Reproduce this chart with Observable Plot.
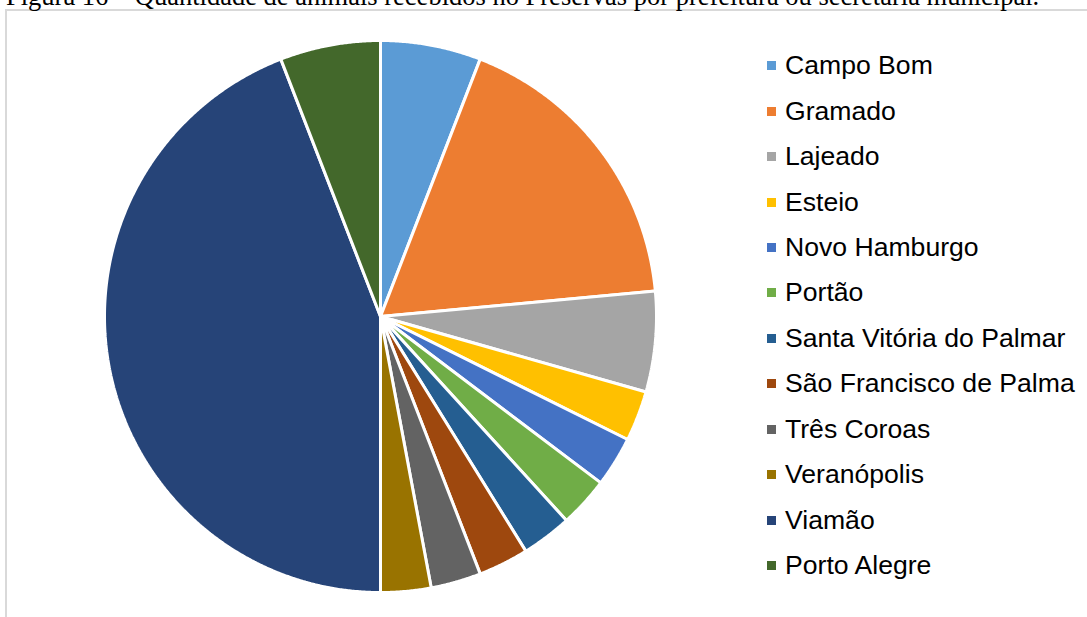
<!DOCTYPE html>
<html>
<head>
<meta charset="utf-8">
<script src="https://cdn.jsdelivr.net/npm/d3@7"></script>
<script src="https://cdn.jsdelivr.net/npm/@observablehq/plot@0.6"></script>
<style>
  html, body { margin: 0; padding: 0; background: #fff; }
  #wrap { position: relative; width: 1087px; height: 617px; overflow: hidden; background: #fff; }
  #title { position: absolute; left: 6px; top: -17.5px; font-family: "Liberation Serif", "Times New Roman", serif; font-size: 26.5px; color: #000; white-space: nowrap; line-height: 1; }
  #frame { position: absolute; left: 5px; top: 9px; width: 1200px; height: 800px; border: 2px solid #d9d9d9; box-sizing: border-box; }
  #chart { position: absolute; left: 0; top: 0; }
  #legend { position: absolute; left: 767px; top: 43px; font-family: "Liberation Sans", Arial, sans-serif; font-size: 26.6px; color: #000; }
  .item { height: 45.45px; display: flex; align-items: center; white-space: nowrap; }
  .sw { width: 9px; height: 9px; margin-right: 9px; flex: none; }
</style>
</head>
<body>
<div id="wrap">
  <div id="frame"></div>
  <div id="title">Figura 16 – Quantidade de animais recebidos no Preservas por prefeitura ou secretaria municipal.</div>
  <div id="chart"></div>
  <div id="legend"></div>
</div>
<script>
const names = ["Campo Bom", "Gramado", "Lajeado", "Esteio", "Novo Hamburgo", "Portão", "Santa Vitória do Palmar", "São Francisco de Palma", "Três Coroas", "Veranópolis", "Viamão", "Porto Alegre"];
const values = [2, 6, 2, 1, 1, 1, 1, 1, 1, 1, 15, 2];
const colors = ["#5B9BD5", "#ED7D31", "#A5A5A5", "#FFC000", "#4472C4", "#70AD47", "#255E91", "#9E480E", "#636363", "#997300", "#264478", "#43682B"];

const arcs = d3.pie().sort(null).value(d => d)(values);
const pts = [];
arcs.forEach((a, i) => {
  const name = names[i];
  pts.push({name, x: 0, y: 0});
  const n = Math.max(4, Math.ceil((a.endAngle - a.startAngle) / 0.005));
  for (let k = 0; k <= n; k++) {
    const t = a.startAngle + (a.endAngle - a.startAngle) * k / n;
    pts.push({name, x: Math.sin(t), y: Math.cos(t)});
  }
  pts.push({name, x: 0, y: 0});
});

const plot = Plot.plot({
  width: 1087,
  height: 617,
  margin: 0,
  style: {background: "transparent"},
  x: {domain: [-1, 1], range: [104, 656], axis: null},
  y: {domain: [-1, 1], range: [592, 40], axis: null},
  color: {domain: names, range: colors},
  marks: [
    Plot.line(pts, {x: "x", y: "y", z: "name", fill: "name", stroke: "white", strokeWidth: 3, strokeLinejoin: "miter", curve: "linear-closed"})
  ]
});
document.getElementById("chart").appendChild(plot);

const legend = document.getElementById("legend");
names.forEach((n, i) => {
  const it = document.createElement("div");
  it.className = "item";
  const sw = document.createElement("span");
  sw.className = "sw";
  sw.style.background = colors[i];
  const tx = document.createElement("span");
  tx.textContent = n;
  it.appendChild(sw);
  it.appendChild(tx);
  legend.appendChild(it);
});
</script>
</body>
</html>
